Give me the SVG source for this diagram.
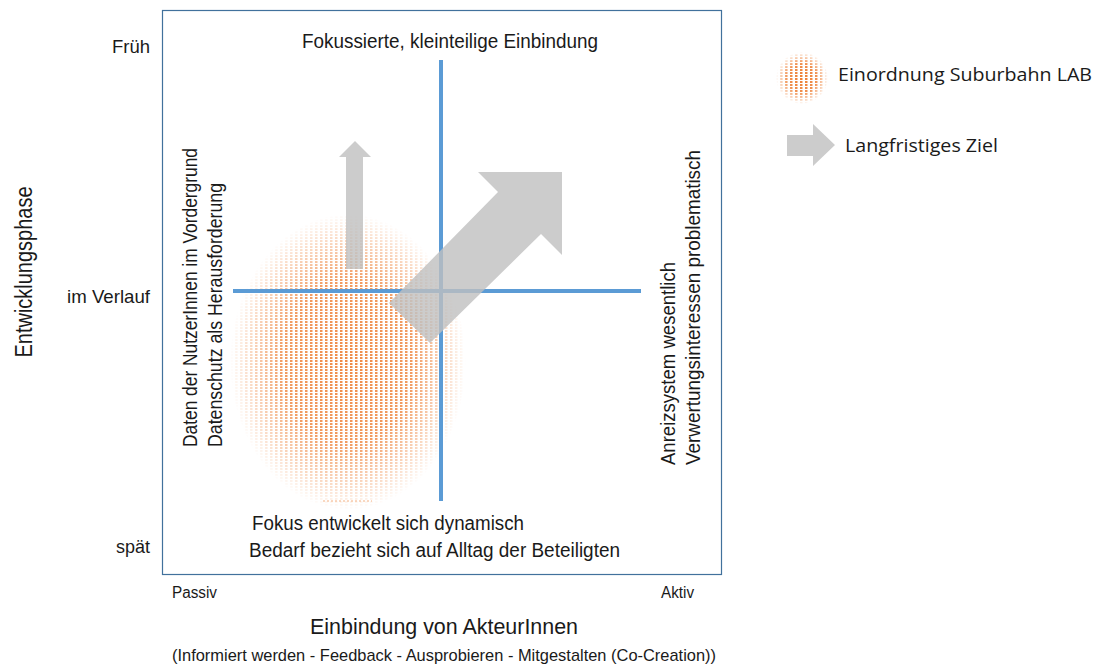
<svg xmlns="http://www.w3.org/2000/svg" width="1098" height="668" viewBox="0 0 1098 668">
<style>
.t{font-family:"Liberation Sans",Arial,sans-serif;fill:#1a1a1a}
.c{font-family:"Open Sans","Noto Sans",sans-serif;fill:#1a1a1a}
.ax{stroke:#5B9BD5;stroke-width:4;fill:none}
.arr{fill:#BFBFBF;fill-opacity:0.8}
</style>
<defs>
<pattern id="dots" width="5" height="3" patternUnits="userSpaceOnUse">
<rect x="0" y="0" width="2.5" height="2" fill="#ED7D31"/>
</pattern>
<radialGradient id="fade" cx="0.5" cy="0.5" r="0.5">
<stop offset="0" stop-color="#fff" stop-opacity="1"/>
<stop offset="0.55" stop-color="#fff" stop-opacity="0.85"/>
<stop offset="1" stop-color="#fff" stop-opacity="0"/>
</radialGradient>
<mask id="blobMask" maskUnits="userSpaceOnUse" x="0" y="0" width="1098" height="668">
<ellipse cx="348" cy="362" rx="118" ry="148" fill="url(#fade)"/>
</mask>
<mask id="legMask" maskUnits="userSpaceOnUse" x="0" y="0" width="1098" height="668">
<circle cx="802" cy="78" r="26" fill="url(#fade)"/>
</mask>
</defs>
<rect x="0" y="0" width="1098" height="668" fill="#fff"/>
<rect x="162.5" y="10.5" width="559" height="564" fill="none" stroke="#41719C" stroke-width="1.2"/>
<g id="blob">
<rect x="225" y="210" width="250" height="300" fill="url(#dots)" mask="url(#blobMask)" opacity="0.9"/>
<line x1="323" y1="501" x2="372" y2="501" stroke="#F4B183" stroke-width="1" stroke-dasharray="2,2"/>
</g>
<g id="connectors">
<line class="ax" x1="441" y1="60" x2="441" y2="501"/>
<line class="ax" x1="233" y1="291" x2="641" y2="291"/>
</g>
<g id="arrows">
<polygon class="arr" points="346,269 346,157 339,157 355,141 371,157 363,157 363,269"/>
<polygon class="arr" points="389,303 498,192 478,172 562,172 562,255 541,234 430,343"/>
</g>
<g id="top-label"><text class="t" x="450" y="48" font-size="20" text-anchor="middle" textLength="296" lengthAdjust="spacingAndGlyphs">Fokussierte, kleinteilige Einbindung</text></g>
<g id="y-ticks">
<text class="t" x="150" y="53" font-size="19" text-anchor="end" textLength="38" lengthAdjust="spacingAndGlyphs">Früh</text>
<text class="t" x="150" y="303" font-size="19" text-anchor="end" textLength="83" lengthAdjust="spacingAndGlyphs">im Verlauf</text>
<text class="t" x="150" y="553" font-size="19" text-anchor="end" textLength="34" lengthAdjust="spacingAndGlyphs">spät</text>
</g>
<g id="y-axis-title"><text class="t" transform="translate(32,272) rotate(-90)" font-size="23" text-anchor="middle" textLength="171" lengthAdjust="spacingAndGlyphs">Entwicklungsphase</text></g>
<g id="left-label">
<text class="t" transform="translate(197,447) rotate(-90)" font-size="20" textLength="299" lengthAdjust="spacingAndGlyphs">Daten der NutzerInnen im Vordergrund</text>
<text class="t" transform="translate(222,447) rotate(-90)" font-size="20" textLength="264" lengthAdjust="spacingAndGlyphs">Datenschutz als Herausforderung</text>
</g>
<g id="right-label">
<text class="t" transform="translate(675,465) rotate(-90)" font-size="20" textLength="203" lengthAdjust="spacingAndGlyphs">Anreizsystem wesentlich</text>
<text class="t" transform="translate(700,465) rotate(-90)" font-size="20" textLength="315" lengthAdjust="spacingAndGlyphs">Verwertungsinteressen problematisch</text>
</g>
<g id="bottom-label">
<text class="t" x="252" y="530" font-size="20" textLength="272" lengthAdjust="spacingAndGlyphs">Fokus entwickelt sich dynamisch</text>
<text class="t" x="249" y="557" font-size="20" textLength="371" lengthAdjust="spacingAndGlyphs">Bedarf bezieht sich auf Alltag der Beteiligten</text>
</g>
<g id="x-axis">
<text class="t" x="172" y="598" font-size="16" textLength="45" lengthAdjust="spacingAndGlyphs">Passiv</text>
<text class="t" x="694" y="598" font-size="16" text-anchor="end" textLength="33" lengthAdjust="spacingAndGlyphs">Aktiv</text>
<text class="t" x="444" y="634" font-size="22" text-anchor="middle" textLength="268" lengthAdjust="spacingAndGlyphs">Einbindung von AkteurInnen</text>
<text class="t" x="172" y="661" font-size="17" textLength="544" lengthAdjust="spacingAndGlyphs">(Informiert werden - Feedback  -  Ausprobieren - Mitgestalten (Co-Creation))</text>
</g>
<g id="legend-blob">
<rect x="774" y="50" width="56" height="56" fill="url(#dots)" mask="url(#legMask)"/>
<text class="c" x="838" y="81" font-size="19" textLength="254" lengthAdjust="spacingAndGlyphs">Einordnung Suburbahn LAB</text>
</g>
<g id="legend-arrow">
<polygon points="787,135 813,135 813,124 835,145 813,166 813,156 787,156" fill="#CCCCCC"/>
<text class="c" x="845" y="152" font-size="19" textLength="153" lengthAdjust="spacingAndGlyphs">Langfristiges Ziel</text>
</g>
</svg>
